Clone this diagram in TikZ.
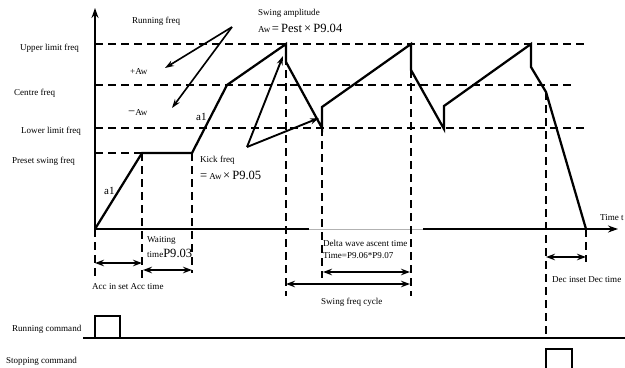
\documentclass[tikz,border=0pt]{standalone}
\usepackage{fontspec}
\setmainfont{Liberation Serif}
\usetikzlibrary{arrows.meta}

\newcommand{\bigtxt}{\fontsize{14.3}{16}\selectfont}

\begin{document}
\begin{tikzpicture}[x=0.4mm, y=-0.4mm,
  lab/.style={anchor=west, inner sep=0pt, font=\fontsize{10.3}{12}\selectfont},
  sig/.style={line width=0.9mm},
  guide/.style={line width=0.85mm, dash pattern=on 3.2mm off 2mm},
  axis/.style={line width=0.9mm, -{Stealth[length=4mm, width=2.8mm]}},
  span/.style={line width=0.85mm, {Stealth[length=3.6mm, width=2.6mm]}-{Stealth[length=3.6mm, width=2.6mm]}},
  ptr/.style={line width=0.65mm, -{Stealth[length=3.6mm, width=2.4mm]}},
  cmd/.style={line width=0.65mm}
]
\useasboundingbox (0,0) rectangle (625,367);

% ---------- Axes ----------
\coordinate (orig) at (95,229);
\draw[axis] (orig) -- (95,8);
\draw[line width=0.9mm] (orig) -- (309,229);
\draw[line width=0.3mm, gray!60] (309,229) -- (423,229);
\draw[axis] (423,229) -- (618,229);
\node[lab] (timet) at (600,218) {Time t};

% ---------- Frequency levels ----------
\draw[guide] (95,44) -- (588,44);
\draw[guide] (95,85) -- (575,85);
\draw[guide] (95,128) -- (588,128);
\draw[guide] (95,153) -- (142,153);
\node[lab] (upper) at (20,48) {Upper limit freq};
\node[lab] (centre) at (14,93) {Centre freq};
\node[lab] (lower) at (21,131) {Lower limit freq};
\node[lab] (preset) at (12,161) {Preset swing freq};

% ---------- Time marks ----------
\draw[guide] (95,229) -- (95,281);
\draw[guide] (142,153) -- (142,278);
\draw[guide] (192,153) -- (192,273);
\draw[guide] (286,44) -- (286,296);
\draw[guide] (322,128) -- (322,278);
\draw[guide] (411,44) -- (411,296);
\draw[guide] (546,92) -- (546,337);
\draw[guide] (586,229) -- (586,262);

% ---------- Running frequency ----------
\draw[sig] (orig) -- (142,153) -- (192,153) -- (227,85) -- (286,44) -- (286,62)
  -- (322,128) -- (322,107) -- (411,44) -- (411,70) -- (444,129) -- (444,106)
  -- (531,44) -- (531,67) -- (546,92) -- (586,229);

% kick freq triangle
\coordinate (kick) at (247,147);
\draw[ptr, line width=0.75mm] (kick) -- (283,56);
\draw[ptr, line width=0.75mm] (kick) -- (319,118);

% running freq pointers
\coordinate (rf) at (232,27);
\draw[ptr] (rf) -- (165,68);
\draw[ptr] (rf) -- (172,108);

\node[lab] (runf) at (132,21) {Running freq};
\node[lab] (plus) at (130,72) {+Aw};
\node[lab] (minus) at (128,113) {{\bigtxt −}Aw};
\node[lab, font=\fontsize{12.5}{14}\selectfont] (aone) at (196,117) {a1};
\node[lab, font=\fontsize{12.5}{14}\selectfont] (atwo) at (104,191) {a1};
\node[lab] (amp) at (258,13) {Swing amplitude};
\node[lab] (ampv) at (258,28) {Aw\,{\bigtxt =\,Pest\,×\,P9.04}};
\node[lab] (kickf) at (200,160) {Kick freq};
\node[lab] (kickv) at (200,175) {{\bigtxt =\,}Aw\,{\bigtxt ×\,P9.05}};

% ---------- Time spans ----------
\draw[span] (95,263) -- (142,263);
\draw[span] (143,270) -- (192,270);
\draw[span] (323,272) -- (410,272);
\draw[span] (286,284) -- (410,284);
\draw[span] (546,257) -- (586,257);

\node[lab] (wait) at (147,240) {Waiting};
\node[lab] (waitv) at (147,253) {time{\bigtxt P9.03}};
\node[lab] (acc) at (92,287) {Acc in set Acc time};
\node[lab] (delta) at (323,243) {Delta wave ascent time};
\node[lab] (deltav) at (323,256) {Time=P9.06*P9.07};
\node[lab] (cycle) at (321,302) {Swing freq cycle};
\node[lab] (dec) at (552,280) {Dec inset Dec time};

% ---------- Commands ----------
\draw[cmd] (83,338) -- (625,338);
\draw[cmd] (95,338) -- (95,316) -- (120,316) -- (120,338);
\draw[cmd] (546,368) -- (546,349) -- (572,349) -- (572,368);
\node[lab] (runcmd) at (12,329) {Running command};
\node[lab] (stopcmd) at (6,361) {Stopping command};

\end{tikzpicture}
\end{document}
